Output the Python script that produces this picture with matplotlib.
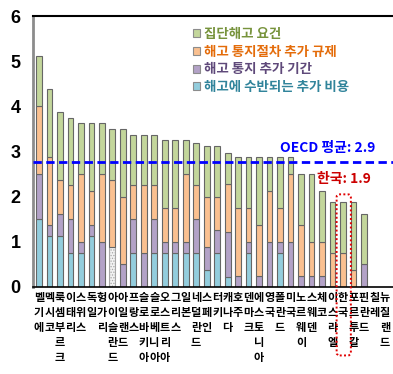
import matplotlib
matplotlib.use("Agg")
import matplotlib.pyplot as plt
from matplotlib.patches import Patch, FancyBboxPatch
import numpy as np

plt.rcParams['font.family'] = ['Noto Sans CJK KR', 'DejaVu Sans']
plt.rcParams['hatch.linewidth'] = 0.6

countries = ["벨기에", "멕시코", "룩셈부르크", "이태리", "스위스", "독일", "헝가리", "아이슬란드",
             "아일랜드", "프랑스", "슬로바키아", "슬로베니아", "오스트리아", "그리스", "일본", "네덜란드",
             "스페인", "터키", "캐나다", "호주", "덴마크", "에스토니아", "영국", "폴란드", "미국",
             "노르웨이", "스웨덴", "체코", "이스라엘", "한국", "포르투갈", "핀란드", "칠레", "뉴질랜드"]

# 해고에 수반되는 추가 비용
extra_cost = [1.5, 1.125, 1.125, 0.75, 0.75, 1.125, 0, 0, 0, 0.75, 0, 0.75, 0.75, 0.75, 0.75, 0.75,
              0.375, 0.75, 0.22, 0, 0.75, 0, 0, 0.75, 0, 0, 0, 0, 0, 0, 0, 0, 0, 0]
# 자료 없음 (아이슬란드)
not_available = [0, 0, 0, 0, 0, 0, 0, 0.875, 0, 0, 0, 0, 0, 0, 0, 0,
                 0, 0, 0, 0, 0, 0, 0, 0, 0, 0, 0, 0, 0, 0, 0, 0, 0, 0]
# 해고 통지 추가 기간
notice_period = [1.0, 0.25, 0.5, 0.75, 0.25, 0.25, 1.0, 0, 0.5, 0.75, 0.75, 0.75, 0.25, 0.25, 0.25, 0.75,
                 0.5, 0.5, 0.99, 0.25, 0.25, 0.25, 1.0, 0.25, 1.0, 0.25, 0.25, 0.25, 0, 0, 0, 0.5, 0, 0]
# 해고 통지절차 추가 규제
notice_procedure = [1.5, 1.5, 0.75, 0.75, 1.5, 0.75, 1.5, 1.5, 1.5, 0.75, 1.5, 0.75, 0.75, 0.75, 1.5, 0.75,
                    1.125, 0.75, 1.07, 1.5, 0.75, 1.125, 1.125, 0.75, 1.5, 1.125, 0.75, 0.75, 0.75, 0.75,
                    0.375, 0, 0, 0]
# 집단해고 요건
collective = [1.125, 1.5, 1.5, 1.5, 1.125, 1.5, 1.125, 1.125, 1.5, 1.125, 1.125, 1.125, 1.5, 1.5, 0.75, 0.94,
              1.125, 1.125, 0.68, 1.125, 1.125, 1.5, 0.75, 1.125, 0.375, 1.125, 1.5, 1.125, 1.125, 1.125,
              1.5, 1.125, 0, 0]

series_labels = ["집단해고 요건", "해고 통지절차 추가 규제", "해고 통지 추가 기간", "해고에 수반되는 추가 비용"]
oecd_line = 2.77
oecd_label = "OECD 평균: 2.9"
korea_label = "한국: 1.9"
korea_name = "한국"
yticks = [0, 1, 2, 3, 4, 5, 6]

fill_colors = ["#C3D69B", "#FAC090", "#B3A2C7", "#93CDDD"]
text_colors = ["#77933C", "#E46C0A", "#5F497A", "#31849B"]
edge = "#666666"

fig = plt.figure(figsize=(3.93, 3.74), dpi=100)
ax = fig.add_axes([0.084, 0.233, 0.916, 0.724])

x = np.arange(len(countries))
w = 0.55
bottom = np.zeros(len(countries))

def draw(vals, color, hatch=None, ec=edge):
    global bottom
    vals = np.array(vals, dtype=float)
    ecs = [ec if v > 0 else 'none' for v in vals]
    ax.bar(x, vals, w, bottom=bottom, color=color, edgecolor=ecs, linewidth=0.8, hatch=hatch, zorder=2)
    bottom = bottom + vals

draw(extra_cost, fill_colors[3])
draw(not_available, "#F2F2F2", hatch="......", ec="#A6A6A6")
draw(notice_period, fill_colors[2])
draw(notice_procedure, fill_colors[1])
draw(collective, fill_colors[0])

ax.axhline(oecd_line, color="#0000FF", lw=2, ls=(0, (3, 1.6)), zorder=3)

ax.set_ylim(0, 6)
ax.set_xlim(-0.57, 33.78)
ax.set_yticks(yticks)
ax.set_yticklabels([str(t) for t in yticks], fontsize=13, fontweight='bold',
                   family=['Liberation Sans Narrow', 'Liberation Sans'])
ax.tick_params(axis='y', length=0, pad=9)
ax.set_xticks(x)
ax.set_xticklabels(["\n".join(c) for c in countries], fontsize=8, fontweight='bold', linespacing=1.2)
ax.tick_params(axis='x', length=0, pad=3)

ax.spines['right'].set_visible(False)
ax.spines['left'].set_color("#8C8C8C")
ax.spines['left'].set_linewidth(2)
ax.spines['top'].set_linewidth(1.5)
ax.spines['bottom'].set_linewidth(1.2)

handles = [Patch(facecolor=fill_colors[i], edgecolor="#8C8C8C", lw=0.8) for i in range(4)]
leg = ax.legend(handles, series_labels, loc='upper left', bbox_to_anchor=(0.41, 1.005),
                frameon=False, handlelength=0.55, handleheight=0.55, handletextpad=0.3,
                labelspacing=0.28, prop={'size': 9.7, 'weight': 'bold'}, labelcolor=text_colors)

ax.text(27.55, 3.07, oecd_label, color="#0000FF", fontsize=10, fontweight='bold',
        ha='center', va='center')
ki = countries.index(korea_name)
ax.text(ki + 0.1, 2.39, korea_label, color="#CC0000", fontsize=10, fontweight='bold',
        ha='center', va='center')

box = FancyBboxPatch((ki - 0.6, -1.52), 1.36, 2.05 + 1.52,
                     boxstyle="round,pad=0,rounding_size=0.3", fill=False, edgecolor="#E00000",
                     lw=1.4, ls=(0, (1, 1.2)), clip_on=False, zorder=5,
                     mutation_aspect=0.2)
ax.add_patch(box)

fig.savefig("out.png", dpi=100)
